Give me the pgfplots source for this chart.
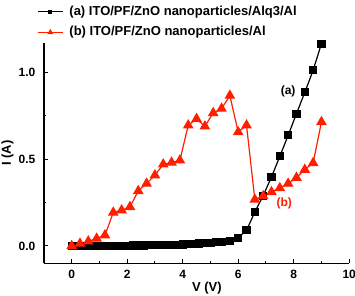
\documentclass[border=0pt]{standalone}
\usepackage{pgfplots}
\pgfplotsset{compat=1.18}
\usepackage{fontspec}
\setmainfont{Liberation Sans}
\definecolor{orired}{RGB}{255,30,0}

% I-V data of the two devices
\pgfplotstableread{
V     I
0.0   0.000
0.2   0.000
0.4   0.000
0.6   0.0005
0.8   0.001
1.0   0.001
1.2   0.001
1.4   0.0015
1.6   0.002
1.8   0.002
2.0   0.002
2.2   0.0025
2.4   0.003
2.6   0.003
2.8   0.0035
3.0   0.004
3.2   0.0045
3.4   0.005
3.6   0.006
3.8   0.007
4.0   0.008
4.2   0.010
4.4   0.012
4.6   0.014
4.8   0.016
5.0   0.018
5.2   0.021
5.4   0.024
5.7   0.030
6.0   0.048
6.3   0.090
6.6   0.196
6.9   0.290
7.2   0.398
7.5   0.517
7.8   0.638
8.1   0.763
8.4   0.886
8.7   1.013
9.0   1.167
}\devA

\pgfplotstableread{
V     I
0.0   0.000
0.3   0.014
0.6   0.027
0.9   0.043
1.2   0.062
1.5   0.193
1.8   0.206
2.1   0.225
2.4   0.317
2.7   0.360
3.0   0.408
3.3   0.471
3.6   0.481
3.9   0.494
4.2   0.696
4.5   0.733
4.8   0.690
5.1   0.767
5.4   0.792
5.7   0.867
6.0   0.657
6.3   0.696
6.6   0.268
6.9   0.288
7.2   0.311
7.5   0.334
7.8   0.360
8.1   0.394
8.4   0.440
8.7   0.479
9.0   0.715
}\devB

\begin{document}
\begin{tikzpicture}[x=1pt,y=1pt]
\useasboundingbox (0,0) rectangle (355,295);
\begin{axis}[
  at={(43.9pt,31.7pt)}, anchor=south west,
  scale only axis, width=305.3pt, height=220.2pt,
  xmin=-1, xmax=10, ymin=-0.1, ymax=1.17,
  axis x line*=bottom, axis y line*=left,
  axis line style={-, line width=1.2pt},
  tick align=inside,
  major tick length=4pt, minor tick length=2.5pt,
  every tick/.style={line width=1pt, black},
  xtick={0,2,...,10}, minor xtick={1,3,...,9},
  ytick={0,0.5,1.0}, minor ytick={0.25,0.75},
  /pgf/number format/assume math mode=true,
  ticklabel style={font=\bfseries\fontsize{12}{14}\selectfont},
  xticklabel style={yshift=-3.5pt},
  yticklabel style={xshift=-5pt, /pgf/number format/fixed,/pgf/number format/fixed zerofill,/pgf/number format/precision=1},
  xlabel={V (V)}, ylabel={I (A)},
  label style={font=\bfseries\fontsize{13}{15}\selectfont},
  xlabel style={at={(axis description cs:0.534,-0.1303)}, anchor=base, inner sep=0pt},
  ylabel style={at={(axis description cs:-0.119,0.5)}, anchor=center},
  clip=false,
  legend cell align=left,
  legend style={draw=none, fill=none, inner sep=0pt,
    at={(axis description cs:-0.0226,1.17)}, anchor=north west,
    font=\bfseries\fontsize{13}{15}\selectfont,
    nodes={inner sep=0pt, text height=9.5pt, text depth=2.5pt},
    row sep=8.5pt, column sep=6pt},
  legend image code/.code={\draw[#1, mark repeat=2, mark phase=2, mark options={scale=0.45}]
    plot coordinates {(0cm,0cm) (0.44cm,0cm) (0.88cm,0cm)};},
]
\addplot[black, line width=1.2pt, mark=square*, mark size=3.5pt]
  table[x=V,y=I] {\devA};
\addlegendentry{(a) ITO/PF/ZnO nanoparticles/Alq3/Al}
\addplot[orired, line width=1.2pt, mark=triangle*, mark size=5pt]
  table[x=V,y=I] {\devB};
\addlegendentry{(b) ITO/PF/ZnO nanoparticles/Al}

\node[font=\bfseries\fontsize{12}{14}\selectfont, black] at (axis cs:7.8,0.892) {(a)};
\node[font=\bfseries\fontsize{12}{14}\selectfont, orired] at (axis cs:7.66,0.245) {(b)};
\end{axis}
\end{tikzpicture}
\end{document}
